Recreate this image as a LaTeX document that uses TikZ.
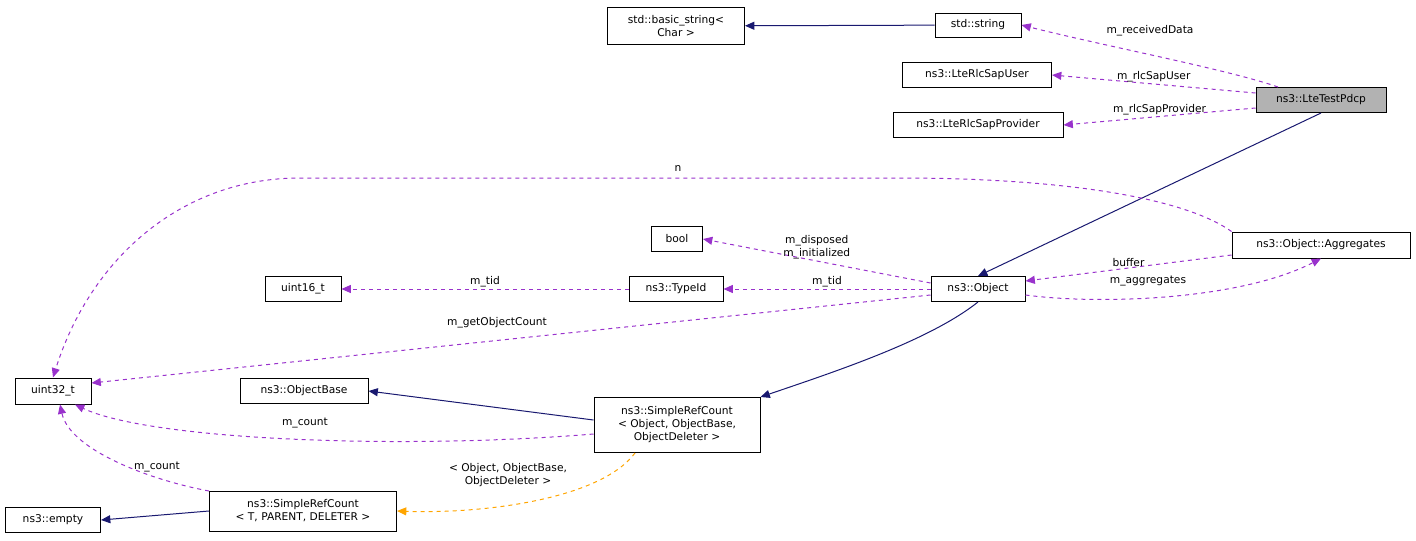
\documentclass[tikz,border=0pt]{standalone}
\usepackage{fontspec}
\setmainfont{DejaVu Sans}
\usetikzlibrary{arrows.meta}
\definecolor{edgenavy}{RGB}{25,25,112}
\definecolor{edgepurple}{RGB}{153,50,204}
\definecolor{edgeorange}{RGB}{255,165,0}
\tikzset{
  cls/.style 2 args={draw, line width=0.75pt, fill=white, align=center, inner sep=1pt,
    minimum width=#1*0.75pt, minimum height=#2*0.75pt},
  inherit/.style={draw=edgenavy, line width=0.75pt, -{Triangle[length=7pt,width=6pt,fill=edgenavy]}},
  member/.style={draw=edgepurple, line width=0.75pt, dashed, -{Triangle[length=7pt,width=6pt,fill=edgepurple]}},
  templ/.style={draw=edgeorange, line width=0.75pt, dashed, -{Triangle[length=7pt,width=6pt,fill=edgeorange]}},
  lbl/.style={inner sep=1pt, align=center}
}
\begin{document}
\begin{tikzpicture}[x=0.75pt, y=-0.75pt]
\tikzstyle{every node}=[font=\fontsize{8}{9.75}\selectfont]
\useasboundingbox (0,0) rectangle (1416,540);

% classes
\node[cls={137}{37}] (basicstr) at (676,26) {std::basic\_string\textless\\Char \textgreater};
\node[cls={86}{24}] (string) at (978,25) {std::string};
\node[cls={149}{25}] (sapuser) at (977,75) {ns3::LteRlcSapUser};
\node[cls={170}{25}] (sapprov) at (978,125) {ns3::LteRlcSapProvider};
\node[cls={130}{25}, fill=gray!60] (pdcp) at (1321,100) {ns3::LteTestPdcp};
\node[cls={51}{25}] (bool) at (677,239) {bool};
\node[cls={178}{26}] (aggr) at (1321,245) {ns3::Object::Aggregates};
\node[cls={76}{25}] (uint16) at (303,289) {uint16\_t};
\node[cls={94}{25}] (typeid) at (676,289) {ns3::TypeId};
\node[cls={94}{25}] (object) at (978,289) {ns3::Object};
\node[cls={76}{26}] (uint32) at (53,391) {uint32\_t};
\node[cls={128}{25}] (objbase) at (304,391) {ns3::ObjectBase};
\node[cls={166}{55}] (srcobj) at (677,425) {ns3::SimpleRefCount\\\textless{} Object, ObjectBase,\\ObjectDeleter \textgreater};
\node[cls={187}{40}] (srct) at (303,511) {ns3::SimpleRefCount\\\textless{} T, PARENT, DELETER \textgreater};
\node[cls={95}{25}] (empty) at (53,520) {ns3::empty};

% inheritance
\draw[inherit] (string) -- (basicstr);
\draw[inherit] (pdcp.south) -- (object.north);
\draw[inherit] (object.south) .. controls (930,340) and (840,370) .. (srcobj.north east);
\draw[inherit] (srcobj.west |- 0,420) -- (objbase.east);
\draw[inherit] (srct.west) -- (empty.east);

% members
\draw[member] (pdcp.north -| 1278,0) .. controls (1230,70) and (1100,45) .. (string.east);
\node[lbl] at (1150,31) {m\_receivedData};
\draw[member] (pdcp.west |- 0,93) -- (sapuser.east) node[lbl, midway, above] {m\_rlcSapUser};
\draw[member] (pdcp.west |- 0,108) -- (sapprov.east) node[lbl, midway, above] {m\_rlcSapProvider};
\draw[member] (aggr.north west) .. controls (1180,195) and (1050,178) .. (900,178) -- (300,178) .. controls (180,178) and (90,260) .. (uint32.north);
\node[lbl] at (678,169) {n};
\draw[member] (object.west |- 0,283) -- (bool.east) node[lbl, midway, above] {m\_disposed\\m\_initialized};
\draw[member] (aggr.west |- 0,255) -- (object.east |- 0,281) node[lbl, midway, above] {buffer};
\draw[member] (object.east |- 0,295) .. controls (1100,305) and (1240,300) .. (aggr.south);
\node[lbl] at (1148,281) {m\_aggregates};
\draw[member] (object.west) -- (typeid.east) node[lbl, midway, above] {m\_tid};
\draw[member] (typeid.west) -- (uint16.east) node[lbl, midway, above] {m\_tid};
\draw[member] (object.west |- 0,295) -- (uint32.east |- 0,383);
\node[lbl] at (497,323) {m\_getObjectCount};
\draw[member] (srcobj.west |- 0,434) .. controls (400,450) and (150,440) .. (uint32.south -| 75,0);
\node[lbl] at (305,423) {m\_count};
\draw[member] (srct.north west |- 240,491) .. controls (150,480) and (70,450) .. (uint32.south -| 60,0);
\node[lbl] at (157,467) {m\_count};
\draw[templ] (srcobj.south -| 635,0) .. controls (600,500) and (480,514) .. (srct.east);
\node[lbl] at (508,475) {\textless{} Object, ObjectBase,\\ObjectDeleter \textgreater};
\end{tikzpicture}
\end{document}
